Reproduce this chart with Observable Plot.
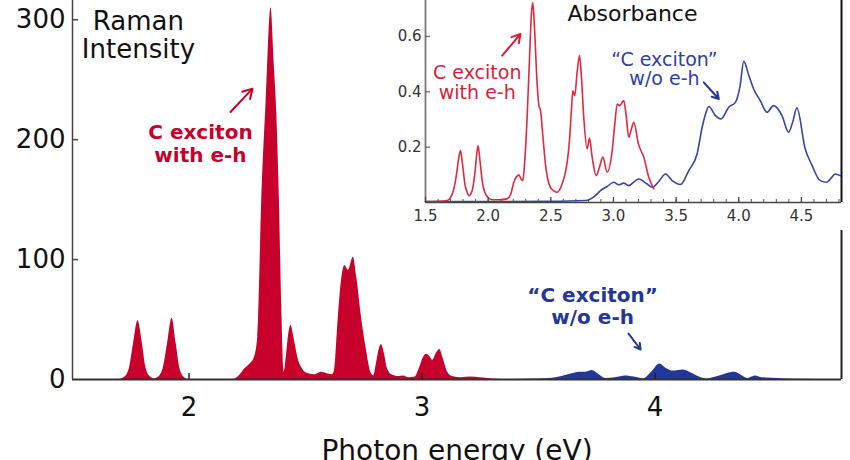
<!DOCTYPE html>
<html>
<head>
<meta charset="utf-8">
<script src="https://cdn.jsdelivr.net/npm/d3@7"></script>
<script src="https://cdn.jsdelivr.net/npm/@observablehq/plot@0.6"></script>
<style>
  html, body { margin: 0; padding: 0; background: #fff; }
  #wrap { position: relative; width: 850px; height: 460px; overflow: hidden; background: #fff; }
  #inset { position: absolute; left: 385px; top: 0px; }
</style>
</head>
<body>
<div id="wrap"><div id="main"></div><div id="inset"></div></div>
<script>
// ---------- Data ----------
// Raman intensity, "C exciton with e-h" (red filled)
const ramanEH_eV = [1.50,1.70,1.725,1.745,1.762,1.781,1.80,1.815,1.835,1.852,1.87,1.89,1.908,1.927,1.945,1.96,1.978,1.995,
  2.19,2.215,2.24,2.262,2.28,2.295,2.312,2.331,2.352,2.365,2.377,2.388,2.398,2.408,2.418,2.428,2.438,2.45,2.47,2.49,2.51,
  2.54,2.57,2.59,2.615,2.625,2.636,2.648,2.66,2.669,2.684,2.705,2.72,2.74,2.762,2.78,2.792,2.805,2.816,2.826,2.838,2.85,
  2.87,2.90,2.92,2.945,2.97,2.99,3.005,3.019,3.034,3.046,3.062,3.076,3.09,3.11,3.13,3.17,3.21,3.25,3.30,3.35];
const ramanEH_I = [0,0,2,10,30,49,30,10,2,0.5,2,10,30,51,30,10,2,0,
  0,3,9,13,18,35,149,232,310,265,220,149,60,6,20,38,45,35,16,8,5,
  4,6,5,4,8,38,70,90,95,91,102,85,52,24,6,3,14,25,29,22,10,
  4,2.5,3,1.5,2,10,18,21,19,16,22,25,18,6,2.5,1.5,2,1.5,0.5,0];
// Raman intensity, "C exciton" w/o e-h (blue filled)
const ramanNoEH_eV = [3.40,3.50,3.56,3.60,3.64,3.676,3.70,3.73,3.76,3.79,3.83,3.874,3.91,3.95,3.985,4.02,4.05,4.077,4.10,4.12,
  4.16,4.19,4.22,4.27,4.31,4.34,4.37,4.397,4.43,4.46,4.50,4.56,4.65,4.72];
const ramanNoEH_I = [0,0.5,1,2.5,4.5,6,6,7.5,4,0.8,1.5,3,2,0.5,6,13,9,7,7.5,8,
  5,2,0.5,2.5,5,6,3.5,0.8,3,1.5,1,0.5,0.3,0];
// Absorbance (inset), with e-h (red line)
const absEH_eV = [1.50,1.60,1.673,1.70,1.726,1.75,1.765,1.779,1.795,1.815,1.832,1.846,1.87,1.895,1.908,1.920,1.935,1.955,1.973,2.0,2.032,
  2.09,2.15,2.18,2.205,2.225,2.245,2.262,2.277,2.292,2.311,2.33,2.345,2.356,2.37,2.391,2.405,2.418,2.435,2.457,2.475,2.497,2.525,2.55,
  2.59,2.617,2.635,2.649,2.664,2.676,2.691,2.71,2.729,2.745,2.763,2.79,2.809,2.83,2.862,2.89,2.915,2.95,2.99,3.01,3.03,3.05,3.082,
  3.10,3.122,3.14,3.162,3.20,3.242,3.282,3.322];
const absEH_A = [0.003,0.004,0.007,0.018,0.049,0.11,0.16,0.188,0.14,0.065,0.037,0.025,0.04,0.11,0.17,0.206,0.15,0.07,0.037,0.018,0.01,
  0.01,0.013,0.03,0.073,0.092,0.10,0.085,0.079,0.15,0.308,0.52,0.68,0.723,0.63,0.428,0.35,0.332,0.25,0.14,0.085,0.055,0.042,0.037,
  0.067,0.11,0.16,0.224,0.33,0.404,0.386,0.47,0.531,0.45,0.308,0.194,0.233,0.164,0.097,0.13,0.164,0.11,0.188,0.28,0.356,0.35,0.368,
  0.32,0.236,0.26,0.29,0.21,0.164,0.091,0.049];
// Absorbance (inset), w/o e-h (blue line)
const absNoEH_eV = [1.50,2.50,2.777,2.856,2.896,2.95,3.003,3.043,3.082,3.122,3.176,3.202,3.269,3.309,3.36,3.415,3.468,3.535,3.602,3.668,
  3.708,3.735,3.761,3.814,3.859,3.92,3.973,4.01,4.04,4.08,4.119,4.172,4.225,4.278,4.345,4.398,4.43,4.464,4.53,4.585,4.65,4.704,4.74,4.77,4.81];
const absNoEH_A = [0.003,0.004,0.007,0.025,0.043,0.058,0.073,0.064,0.07,0.061,0.079,0.085,0.067,0.055,0.075,0.103,0.079,0.065,0.116,0.176,
  0.272,0.32,0.347,0.314,0.302,0.344,0.362,0.42,0.51,0.46,0.41,0.368,0.326,0.35,0.314,0.254,0.29,0.342,0.194,0.134,0.079,0.073,0.09,0.103,0.097];

const mainXTicks = [2, 3, 4];
const mainYTicks = [0, 100, 200, 300];
const insetXTicks = [1.5, 2.0, 2.5, 3.0, 3.5, 4.0, 4.5];
const insetXMinor = d3.range(15, 49).map(d => d / 10);
const insetYTicks = [0.2, 0.4, 0.6];

const xLabel = "Photon energy (eV)";
const yLabel = "Raman\nIntensity";
const labelEH = "C exciton\nwith e-h";
const labelNoEH = "\u201CC exciton\u201D\nw/o e-h";
const insetTitle = "Absorbance";

// ---------- tables ----------
const toRows = (xs, ys) => xs.map((e, i) => ({e, v: ys[i]}));
const ramanEH = toRows(ramanEH_eV, ramanEH_I);
const ramanNoEH = toRows(ramanNoEH_eV, ramanNoEH_I);
const absEH = toRows(absEH_eV, absEH_A);
const absNoEH = toRows(absNoEH_eV, absNoEH_A);

const RED = "#c8002c";
const BLUE = "#23369a";
const RED2 = "#e0283f";
const BLUE2 = "#3545a8";
const FONT = "DejaVu Sans";

// ---------- main chart ----------
const main = Plot.plot({
  width: 850, height: 460,
  marginLeft: 72, marginRight: 9, marginTop: 0, marginBottom: 81,
  x: {domain: [1.5, 4.8]},
  y: {domain: [0, 316]},
  style: {fontFamily: FONT, background: "#fff", color: "#111", overflow: "visible"},
  marks: [
    Plot.areaY(ramanEH, {x: "e", y: "v", fill: RED, curve: "monotone-x"}),
    Plot.areaY(ramanNoEH, {x: "e", y: "v", fill: BLUE, curve: "monotone-x"}),
    Plot.ruleY([0], {stroke: "#333", strokeWidth: 2}),
    Plot.ruleX([1.5], {stroke: "#444", strokeWidth: 1.5}),
    Plot.ruleX([4.8], {stroke: "#222", strokeWidth: 2}),
    Plot.tickX(mainXTicks, {x: d => d, insetTop: 373, stroke: "#222", strokeWidth: 1.5}),
    Plot.tickY(mainYTicks.filter(d => d > 0), {y: d => d, insetRight: 763, stroke: "#444", strokeWidth: 1.5}),
    Plot.axisX(mainXTicks, {tickSize: 0, tickPadding: 18, fontSize: 26, tickFormat: d => String(d), label: null}),
    Plot.axisY(mainYTicks, {tickSize: 0, tickPadding: 7, fontSize: 26, tickFormat: d => String(d), label: null}),
    Plot.text([xLabel], {frameAnchor: "bottom", dy: 80, fontSize: 28, lineAnchor: "bottom", textAnchor: "middle", fill: "#111"}),
    Plot.text([yLabel], {x: 1.783, y: 287.5, fontSize: 26, lineHeight: 1.08, lineAnchor: "middle", textAnchor: "middle", fill: "#111"}),
    Plot.text([labelEH], {x: 2.049, y: 196.8, fontSize: 20, fontWeight: "bold", lineHeight: 1.12, lineAnchor: "middle", textAnchor: "middle", fill: RED}),
    Plot.arrow([0], {x1: 2.178, y1: 223, x2: 2.2725, y2: 242.5, stroke: RED, strokeWidth: 2, headLength: 9, bend: 0}),
    Plot.text([labelNoEH], {x: 3.732, y: 61, fontSize: 20, fontWeight: "bold", lineHeight: 1.1, lineAnchor: "middle", textAnchor: "middle", fill: BLUE}),
    Plot.arrow([0], {x1: 3.886, y1: 38.3, x2: 3.938, y2: 25, stroke: BLUE, strokeWidth: 2, headLength: 9, bend: 0})
  ]
});
document.getElementById("main").appendChild(main);

// ---------- inset ----------
const inset = Plot.plot({
  width: 465, height: 230,
  marginLeft: 40, marginRight: 9, marginTop: 0, marginBottom: 28,
  x: {domain: [1.5, 4.82]},
  y: {domain: [0, 0.73]},
  style: {fontFamily: FONT, background: "#fff", color: "#333", overflow: "visible"},
  marks: [
    Plot.line(absNoEH, {x: "e", y: "v", stroke: BLUE2, strokeWidth: 1.6, curve: "monotone-x"}),
    Plot.line(absEH, {x: "e", y: "v", stroke: RED2, strokeWidth: 1.6, curve: "monotone-x"}),
    Plot.ruleX([1.5], {stroke: "#777", strokeWidth: 1.8}),
    Plot.ruleY([0], {stroke: "#444", strokeWidth: 1.5}),
    Plot.ruleX([4.82], {stroke: "#111", strokeWidth: 2}),
    Plot.tickX(insetXMinor, {x: d => d, insetTop: 199, stroke: "#555", strokeWidth: 1}),
    Plot.tickX(insetXTicks, {x: d => d, insetTop: 197, stroke: "#444", strokeWidth: 1.2}),
    Plot.tickY(insetYTicks, {y: d => d, insetRight: 411, stroke: "#666", strokeWidth: 1.2}),
    Plot.axisX(insetXTicks, {tickSize: 0, tickPadding: 8, fontSize: 15, tickFormat: ".1f", label: null}),
    Plot.axisY(insetYTicks, {tickSize: 0, tickPadding: 4, fontSize: 15, tickFormat: ".1f", label: null}),
    Plot.text([insetTitle], {x: 3.152, y: 0.68, fontSize: 22, lineAnchor: "middle", textAnchor: "middle", fill: "#111"}),
    Plot.text([labelEH], {x: 1.913, y: 0.434, fontSize: 19, lineHeight: 1.05, lineAnchor: "middle", textAnchor: "middle", fill: "#d81e3c"}),
    Plot.arrow([0], {x1: 2.112, y1: 0.531, x2: 2.258, y2: 0.609, stroke: "#d81e3c", strokeWidth: 2, headLength: 8, bend: 0}),
    Plot.text([labelNoEH], {x: 3.407, y: 0.482, fontSize: 19, lineHeight: 1.05, lineAnchor: "middle", textAnchor: "middle", fill: "#3040a0"}),
    Plot.arrow([0], {x1: 3.721, y1: 0.434, x2: 3.841, y2: 0.374, stroke: "#25358f", strokeWidth: 2, headLength: 8, bend: 0})
  ]
});
document.getElementById("inset").appendChild(inset);
</script>
</body>
</html>
